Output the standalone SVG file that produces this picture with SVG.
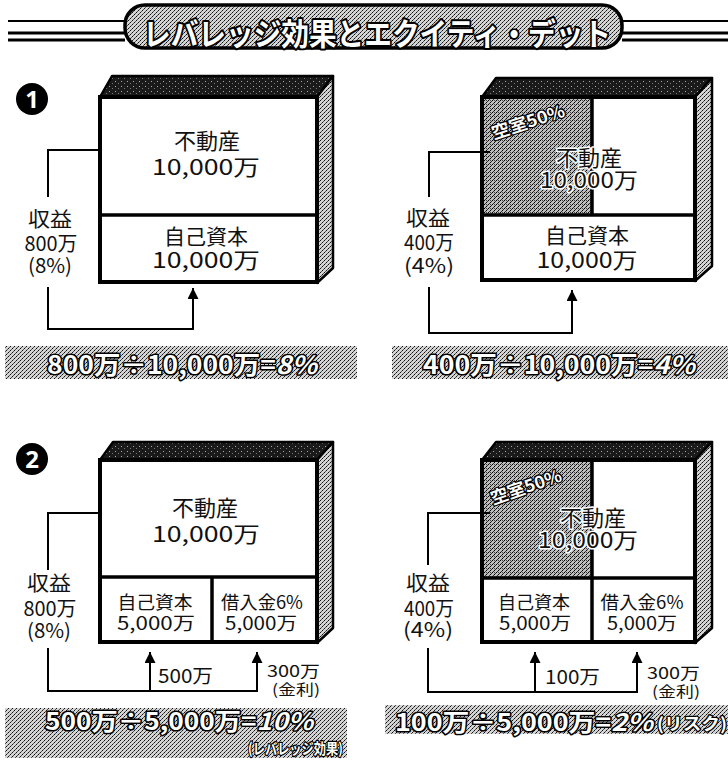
<svg xmlns="http://www.w3.org/2000/svg" width="728" height="761" viewBox="0 0 728 761">
<style>
.t{font-family:"Noto Sans CJK JP","Noto Sans",sans-serif;fill:#111;}
.c{text-anchor:middle;}
.o{font-family:"Noto Sans CJK JP","Noto Sans",sans-serif;font-weight:bold;fill:#fff;stroke:#000;stroke-width:3;stroke-linejoin:round;paint-order:stroke;}
.h{stroke:#fff;stroke-width:3;stroke-linejoin:round;paint-order:stroke;}
.front{fill:#fff;stroke:#000;stroke-width:4;}
.top{fill:url(#dk);stroke:#000;stroke-width:2.5;stroke-linejoin:round;}
.side{fill:url(#ht);stroke:#000;stroke-width:2.5;stroke-linejoin:round;}
.div{stroke:#000;stroke-width:3.5;fill:none;}
.gray{fill:url(#ht2);}
.ln{fill:none;stroke:#000;stroke-width:2;}
.bar{fill:url(#ht);}
</style>
<defs>
<pattern id="ht" width="4" height="4" patternUnits="userSpaceOnUse">
<rect width="4" height="4" fill="#d4d4d4"/>
<rect x="0" y="0" width="1" height="1" fill="#111"/>
<rect x="2" y="2" width="1" height="1" fill="#111"/>
<rect x="1" y="3" width="1" height="1" fill="#555"/>
<rect x="3" y="1" width="1" height="1" fill="#555"/>
</pattern>
<pattern id="ht2" width="4" height="4" patternUnits="userSpaceOnUse">
<rect width="4" height="4" fill="#bdbdbd"/>
<rect x="0" y="0" width="1" height="1" fill="#000"/>
<rect x="2" y="2" width="1" height="1" fill="#000"/>
<rect x="1" y="3" width="1" height="1" fill="#333"/>
<rect x="3" y="1" width="1" height="1" fill="#333"/>
<rect x="2" y="0" width="1" height="1" fill="#444"/>
</pattern>
<pattern id="dk" width="6" height="5" patternUnits="userSpaceOnUse">
<rect width="6" height="5" fill="#1a1a1a"/>
<rect x="1" y="1" width="1" height="1" fill="#aaa"/>
<rect x="4" y="3" width="1" height="1" fill="#777"/>
</pattern>
<marker id="arr" viewBox="0 0 10 10" refX="10" refY="5" markerUnits="userSpaceOnUse" markerWidth="14" markerHeight="11" orient="auto">
<path d="M0,0 L10,5 L0,10 z" fill="#000"/>
</marker>
</defs>
<rect width="728" height="761" fill="#fff"/>

<g id="title">
<line x1="8" y1="21" x2="125" y2="21" stroke="#000" stroke-width="2"/>
<line x1="8" y1="33" x2="125" y2="33" stroke="#000" stroke-width="3"/>
<line x1="8" y1="40" x2="125" y2="40" stroke="#000" stroke-width="3"/>
<line x1="622" y1="21" x2="728" y2="21" stroke="#000" stroke-width="2"/>
<line x1="622" y1="33" x2="728" y2="33" stroke="#000" stroke-width="3"/>
<line x1="622" y1="40" x2="728" y2="40" stroke="#000" stroke-width="3"/>
<rect x="125" y="5" width="497" height="43" rx="20" fill="url(#ht)" stroke="#000" stroke-width="3.5"/>
<text class="o" x="143" y="45" font-size="31" textLength="468" lengthAdjust="spacingAndGlyphs" style="stroke-width:4">レバレッジ効果とエクイティ・デット</text>
</g>

<g id="num1">
<circle cx="32" cy="99" r="16" fill="#000"/>
<text x="32" y="108" font-size="24" font-weight="bold" fill="#fff" text-anchor="middle" font-family="Noto Sans, sans-serif">1</text>
</g>
<g id="num2">
<circle cx="32" cy="459" r="16" fill="#000"/>
<text x="32" y="468" font-size="24" font-weight="bold" fill="#fff" text-anchor="middle" font-family="Noto Sans, sans-serif">2</text>
</g>

<g id="box1">
<polygon class="top" points="100,97 112,76 333,76 317,97"/>
<polygon class="side" points="317,97 333,76 333,268 317,283"/>
<rect class="front" x="100" y="97" width="217" height="185"/>
<line class="div" x1="100" y1="215" x2="317" y2="215"/>
<text class="t c" font-size="22"><tspan x="207" y="149">不動産</tspan><tspan x="206" y="175" textLength="108" lengthAdjust="spacingAndGlyphs">10,000万</tspan></text>
<text class="t c" font-size="22"><tspan x="206" y="244" font-size="21">自己資本</tspan><tspan x="206" y="268" textLength="108" lengthAdjust="spacingAndGlyphs">10,000万</tspan></text>
</g>
<g id="label1">
<text class="t c" font-size="20"><tspan x="50" y="227" textLength="44" lengthAdjust="spacingAndGlyphs">収益</tspan><tspan x="51" y="251" textLength="53" lengthAdjust="spacingAndGlyphs">800万</tspan><tspan x="50" y="273" textLength="44" lengthAdjust="spacingAndGlyphs">(8%)</tspan></text>
</g>

<g id="box2">
<polygon class="top" points="482,97 496,78 712,78 695,97"/>
<polygon class="side" points="695,97 712,78 712,266 695,281"/>
<rect class="front" x="482" y="97" width="213" height="183"/>
<rect class="gray" x="484" y="99" width="108" height="116"/>
<line class="div" x1="592" y1="97" x2="592" y2="215"/>
<line class="div" x1="482" y1="215" x2="695" y2="215"/>
<text class="o" x="528" y="128" font-size="17" textLength="76" lengthAdjust="spacingAndGlyphs" transform="rotate(-18 528 122)" text-anchor="middle" style="stroke-width:2.5">空室50%</text>
<text class="t c h" font-size="22"><tspan x="589" y="166">不動産</tspan><tspan x="589" y="188" textLength="98" lengthAdjust="spacingAndGlyphs">10,000万</tspan></text>
<text class="t c" font-size="22"><tspan x="587" y="243" font-size="21">自己資本</tspan><tspan x="587" y="268" textLength="101" lengthAdjust="spacingAndGlyphs">10,000万</tspan></text>
</g>
<g id="label2">
<text class="t c" font-size="20"><tspan x="428" y="226" textLength="44" lengthAdjust="spacingAndGlyphs">収益</tspan><tspan x="429" y="250" textLength="50" lengthAdjust="spacingAndGlyphs">400万</tspan><tspan x="429" y="273" textLength="50" lengthAdjust="spacingAndGlyphs">(4%)</tspan></text>
</g>

<g id="bar1">
<rect class="bar" x="5" y="346" width="352" height="33"/>
<text class="o" x="47" y="374" font-size="25" textLength="270" lengthAdjust="spacingAndGlyphs">800万÷10,000万=<tspan font-style="italic">8%</tspan></text>
</g>
<g id="bar2">
<rect class="bar" x="392" y="346" width="336" height="33"/>
<text class="o" x="423" y="374" font-size="25" textLength="272" lengthAdjust="spacingAndGlyphs">400万÷10,000万=<tspan font-style="italic">4%</tspan></text>
</g>

<g id="box3">
<polygon class="top" points="100,460 113,442 333,442 317,460"/>
<polygon class="side" points="317,460 333,442 333,628 317,643"/>
<rect class="front" x="100" y="460" width="217" height="182"/>
<line class="div" x1="100" y1="577" x2="317" y2="577"/>
<line class="div" x1="212" y1="577" x2="212" y2="642"/>
<text class="t c" font-size="22"><tspan x="205" y="516">不動産</tspan><tspan x="206" y="542" textLength="108" lengthAdjust="spacingAndGlyphs">10,000万</tspan></text>
<text class="t c" font-size="18"><tspan x="155" y="609" textLength="75" lengthAdjust="spacingAndGlyphs">自己資本</tspan><tspan x="156" y="630" textLength="78" lengthAdjust="spacingAndGlyphs">5,000万</tspan></text>
<text class="t c" font-size="18"><tspan x="262" y="609" textLength="82" lengthAdjust="spacingAndGlyphs">借入金6%</tspan><tspan x="261" y="630" textLength="72" lengthAdjust="spacingAndGlyphs">5,000万</tspan></text>
</g>
<g id="label3">
<text class="t c" font-size="20"><tspan x="49" y="591" textLength="44" lengthAdjust="spacingAndGlyphs">収益</tspan><tspan x="50" y="616" textLength="53" lengthAdjust="spacingAndGlyphs">800万</tspan><tspan x="49" y="638" textLength="44" lengthAdjust="spacingAndGlyphs">(8%)</tspan></text>
<text class="t" x="158" y="683" font-size="19" textLength="55" lengthAdjust="spacingAndGlyphs">500万</text>
<text class="t" font-size="16"><tspan x="267" y="677" textLength="53" lengthAdjust="spacingAndGlyphs">300万</tspan><tspan x="272" y="695" font-size="15" textLength="48" lengthAdjust="spacingAndGlyphs">(金利)</tspan></text>
</g>

<g id="box4">
<polygon class="top" points="482,460 496,442 712,442 695,460"/>
<polygon class="side" points="695,460 712,442 712,628 695,643"/>
<rect class="front" x="482" y="460" width="213" height="182"/>
<rect class="gray" x="484" y="462" width="108" height="116"/>
<line class="div" x1="592" y1="460" x2="592" y2="642"/>
<line class="div" x1="482" y1="578" x2="695" y2="578"/>
<text class="o" x="526" y="493" font-size="17" textLength="74" lengthAdjust="spacingAndGlyphs" transform="rotate(-19 526 487)" text-anchor="middle" style="stroke-width:2.5">空室50%</text>
<text class="t c h" font-size="22"><tspan x="593" y="526">不動産</tspan><tspan x="588" y="548" textLength="100" lengthAdjust="spacingAndGlyphs">10,000万</tspan></text>
<text class="t c" font-size="18"><tspan x="534" y="609" textLength="72" lengthAdjust="spacingAndGlyphs">自己資本</tspan><tspan x="535" y="630" textLength="72" lengthAdjust="spacingAndGlyphs">5,000万</tspan></text>
<text class="t c" font-size="18"><tspan x="642" y="609" textLength="83" lengthAdjust="spacingAndGlyphs">借入金6%</tspan><tspan x="642" y="630" textLength="70" lengthAdjust="spacingAndGlyphs">5,000万</tspan></text>
</g>
<g id="label4">
<text class="t c" font-size="20"><tspan x="428" y="591" textLength="44" lengthAdjust="spacingAndGlyphs">収益</tspan><tspan x="429" y="616" textLength="50" lengthAdjust="spacingAndGlyphs">400万</tspan><tspan x="428" y="637" textLength="50" lengthAdjust="spacingAndGlyphs">(4%)</tspan></text>
<text class="t" x="545" y="684" font-size="19" textLength="55" lengthAdjust="spacingAndGlyphs">100万</text>
<text class="t" font-size="16"><tspan x="647" y="679" textLength="53" lengthAdjust="spacingAndGlyphs">300万</tspan><tspan x="652" y="697" font-size="15" textLength="48" lengthAdjust="spacingAndGlyphs">(金利)</tspan></text>
</g>

<g id="bar3">
<rect class="bar" x="5" y="708" width="342" height="50"/>
<text class="o" font-size="24"><tspan x="45" y="730" textLength="268" lengthAdjust="spacingAndGlyphs">500万÷5,000万=<tspan font-style="italic">10%</tspan></tspan><tspan x="248" y="754" font-size="15" textLength="95" lengthAdjust="spacingAndGlyphs" style="stroke-width:2.5">(レバレッジ効果)</tspan></text>
</g>
<g id="bar4">
<rect class="bar" x="385" y="705" width="343" height="29"/>
<text class="o" font-size="24"><tspan x="395" y="731" textLength="258" lengthAdjust="spacingAndGlyphs">100万÷5,000万=<tspan font-style="italic">2%</tspan></tspan><tspan x="657" y="730" font-size="17" textLength="70" lengthAdjust="spacingAndGlyphs" style="stroke-width:2.5">(リスク)</tspan></text>
</g>

<g id="connectors">
<polyline class="ln" points="100,150 48,150 48,197"/>
<polyline class="ln" points="48,287 48,329 193,329 193,288" marker-end="url(#arr)"/>
<polyline class="ln" points="490,152 429,152 429,197"/>
<polyline class="ln" points="429,287 429,333 572,333 572,290" marker-end="url(#arr)"/>
<polyline class="ln" points="100,513 48,513 48,570"/>
<polyline class="ln" points="48,648 48,691 257,691 257,652" marker-end="url(#arr)"/>
<polyline class="ln" points="150,691 150,652" marker-end="url(#arr)"/>
<polyline class="ln" points="490,513 428,513 428,565"/>
<polyline class="ln" points="428,648 428,692 637,692 637,652" marker-end="url(#arr)"/>
<polyline class="ln" points="535,692 535,652" marker-end="url(#arr)"/>
</g>
</svg>
